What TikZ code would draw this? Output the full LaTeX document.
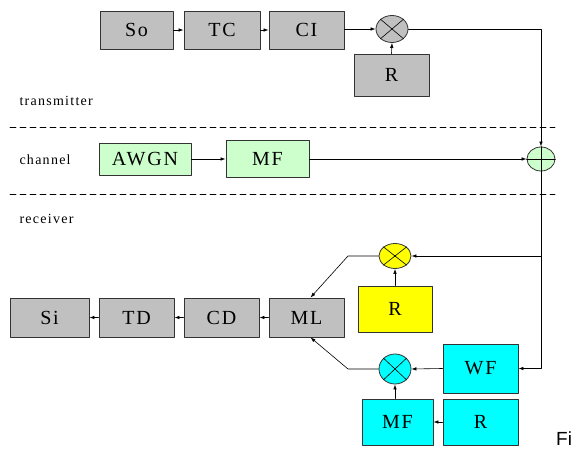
\documentclass[tikz,border=0pt]{standalone}
\usepackage{fontspec}
\setmainfont[LetterSpace=9]{Liberation Serif}
\newfontfamily\capfont{Liberation Sans}
\usetikzlibrary{shapes.geometric,arrows.meta}
\definecolor{boxgray}{HTML}{C0C0C0}
\definecolor{chgreen}{HTML}{CCFFCC}
\definecolor{rxyellow}{HTML}{FFFF00}
\definecolor{rxcyan}{HTML}{00FFFF}
\tikzset{
  blk/.style={draw=black!80,line width=0.9pt,fill=boxgray,inner sep=0pt,
    minimum width=75,minimum height=39,font=\fontsize{20}{22}\selectfont},
  mixer/.style={draw=black!80,line width=0.8pt,ellipse,inner sep=0pt,
    minimum width=32,minimum height=27},
  zone/.style={anchor=west,font=\fontsize{14}{16}\selectfont},
  sep/.style={line width=0.8pt,dash pattern=on 6pt off 4pt},
  sig/.style={line width=0.6pt,-{Latex[length=5pt,width=3.5pt]}}
}
\begin{document}
\begin{tikzpicture}[x=1pt,y=-1pt,line cap=round,line join=round]
      \useasboundingbox (0,0) rectangle (579,449);

      % transmitter
      \node[blk,minimum width=73,minimum height=38] (so) at (136.5,30) {So};
      \node[blk,minimum width=76,minimum height=38] (tc) at (222,30) {TC};
      \node[blk,minimum height=38] (ci) at (306.5,30) {CI};
      \node[mixer,fill=boxgray] (mixT) at (392,29) {};
      \node[blk,minimum height=42] (rT) at (391.5,75) {R};

      % channel
      \node[blk,fill=chgreen,minimum width=92,minimum height=32] (awgn) at (145,159) {AWGN};
      \node[blk,fill=chgreen,minimum width=83,minimum height=37] (mfC) at (267.5,159) {MF};
      \node[mixer,fill=chgreen,minimum width=28,minimum height=24] (sum) at (541,159) {};

      % receiver
      \node[mixer,fill=rxyellow,minimum height=25] (mixY) at (395,256) {};
      \node[blk,fill=rxyellow,minimum width=74,minimum height=46] (rY) at (395,309) {R};
      \node[blk] (ml) at (306.5,317.5) {ML};
      \node[blk] (cd) at (221.5,317.5) {CD};
      \node[blk] (td) at (136.5,317.5) {TD};
      \node[blk,minimum width=79] (si) at (49.5,317.5) {Si};
      \node[blk,fill=rxcyan,minimum height=49] (wf) at (480.5,368.5) {WF};
      \node[mixer,fill=rxcyan,minimum height=30] (mixC) at (395,369) {};
      \node[blk,fill=rxcyan,minimum width=71,minimum height=46] (mfR) at (397.5,422) {MF};
      \node[blk,fill=rxcyan,minimum height=46] (rR) at (480.5,422) {R};

      \foreach \m in {mixT,mixY,mixC}
        \draw[line width=0.6pt] (\m.north west)--(\m.south east) (\m.north east)--(\m.south west);
      \draw[line width=0.6pt] (sum.north)--(sum.south) (sum.west)--(sum.east);

      % zones
      \node[zone] (tx) at (16,101) {transmitter};
      \node[zone] (chan) at (16,160) {channel};
      \node[zone] (rx) at (16,219) {receiver};
      \draw[sep] (10,127)--(555,127) (10,194)--(555,194);

      % signal flow
      \draw[sig] (so)--(tc);
      \draw[sig] (tc)--(ci);
      \draw[sig] (ci.east|-mixT)--(mixT.west);
      \draw[sig] (rT.north)--(mixT.south);
      \draw[sig] (mixT.east)-|(sum.north);
      \draw[sig] (awgn)--(mfC);
      \draw[sig] (mfC)--(sum.west);
      \coordinate (br) at (sum|-mixY);
      \draw[sig] (sum.south)|-(wf.east);
      \draw[sig] (br)--(mixY.east);
      \draw[sig] (rY.north)--(mixY.south);
      \draw[sig] (mixY.west)--(348,256)--([xshift=4pt]ml.north);
      \draw[sig] (wf.west)--(mixC.east);
      \draw[sig] (mfR.north-|mixC.south)--(mixC.south);
      \draw[sig] (rR.west)--(mfR.east);
      \draw[sig] (mixC.west)--(348,369)--([xshift=4pt]ml.south);
      \draw[sig] (ml)--(cd);
      \draw[sig] (cd)--(td);
      \draw[sig] (td)--(si);

      \node[anchor=west,inner sep=0pt,font=\capfont\fontsize{19}{20}\selectfont] (fig) at (556,439) {Fi};
\end{tikzpicture}
\end{document}
